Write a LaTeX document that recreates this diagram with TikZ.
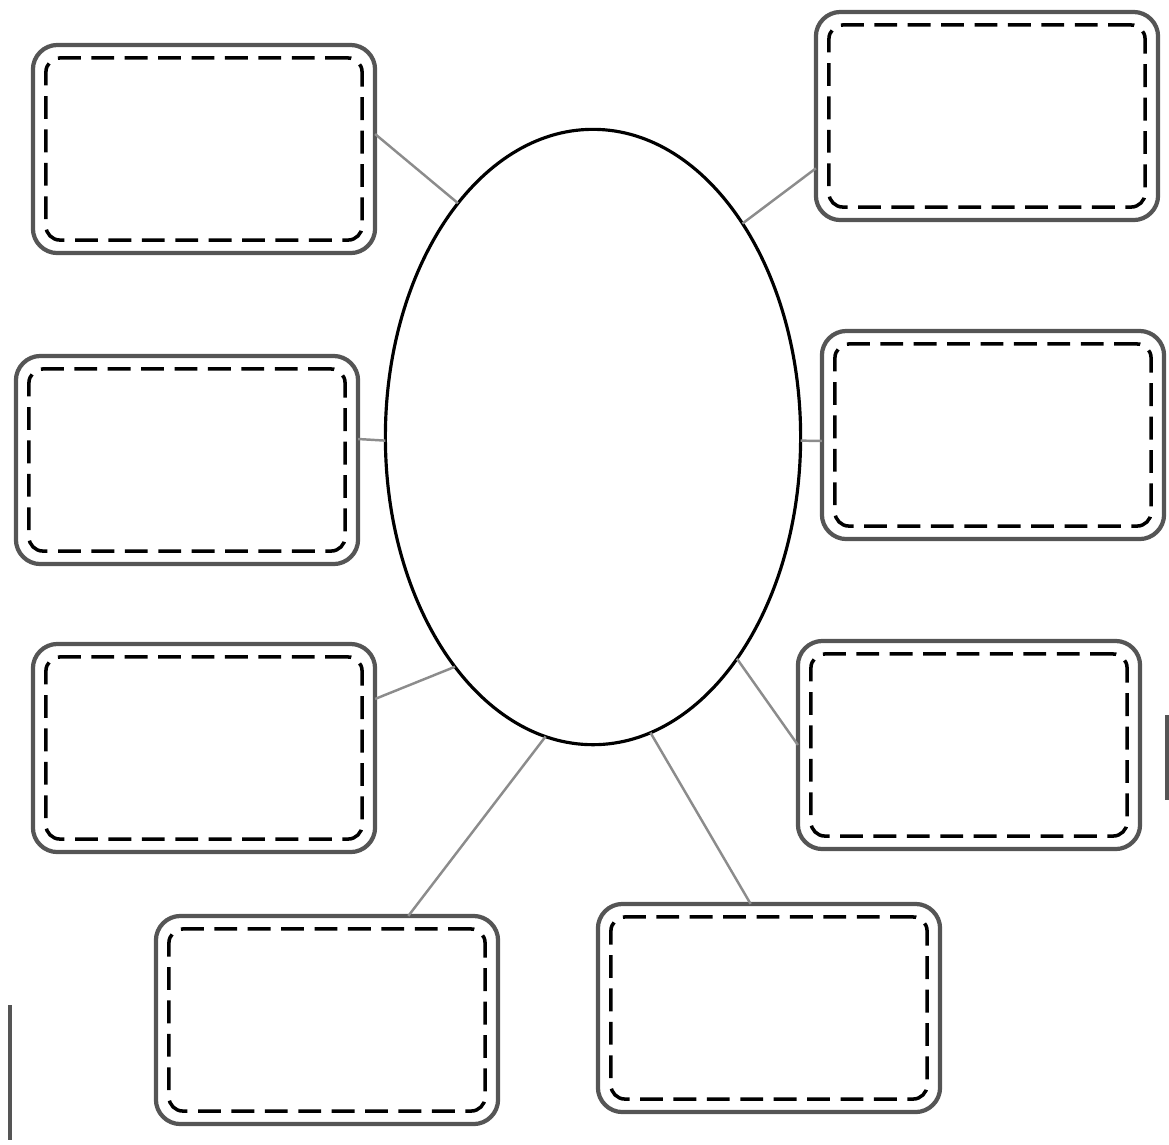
\documentclass[tikz,border=0pt]{standalone}
\usepackage{xcolor}
\usepackage{tikz}
\usetikzlibrary{shapes.geometric}
\definecolor{cardgray}{HTML}{555555}
\definecolor{linkgray}{HTML}{8c8c8c}

\begin{document}
\begin{tikzpicture}[x=0.01cm,y=-0.01cm,
  cardout/.style={draw=cardgray,line width=1.2pt,rounded corners=7pt,minimum width=3.42cm,minimum height=2.08cm,inner sep=0pt,outer sep=0pt},
  cardin/.style={draw=black,line width=1pt,dash pattern=on 6.5pt off 3pt,rounded corners=4pt,minimum width=3.16cm,minimum height=1.82cm,inner sep=0pt},
  hubnode/.style={ellipse,draw=black,line width=0.9pt,minimum width=4.15cm,minimum height=6.15cm,inner sep=0pt,outer sep=0pt},
  link/.style={draw=linkgray,line width=0.7pt}]
  \useasboundingbox (0,0) rectangle (1169,1144);
  \node[hubnode] (hub) at (593,437) {};
  \foreach \nm/\px/\py in {tl/204/149, tr/987/116, ml/187/460, mr/993/435, ll/204/748, lr/969/745, bl/327/1020, br/769/1008}{
    \node[cardout] (\nm) at (\px,\py) {};
    \node[cardin] (\nm-in) at (\px,\py) {};
  }
  \draw[link] (tl.5) -- (hub.120);
  \draw[link] (tr.197) -- (hub.55);
  \draw[link] (ml.7) -- (hub.181);
  \draw[link] (mr.182) -- (hub.359);
  \draw[link] (ll.16) -- (hub.239);
  \draw[link] (lr.180) -- (hub.303);
  \draw[link] (bl.52) -- (hub.261);
  \draw[link] (br.100) -- (hub.281);
  \draw[cardgray,line width=1pt] (10,1005) -- (10,1140);
  \draw[cardgray,line width=1pt] (1167,715) -- (1167,800);
\end{tikzpicture}
\end{document}
